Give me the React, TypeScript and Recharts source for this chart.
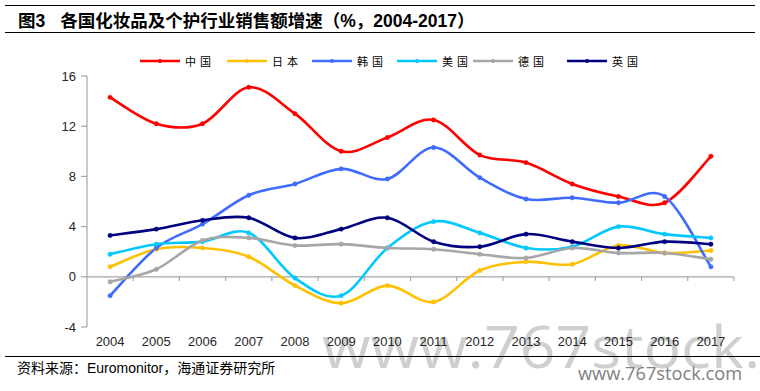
import React from 'react';
import { LineChart, Line, XAxis, YAxis, ReferenceLine } from 'recharts';

const years = ['2004', '2005', '2006', '2007', '2008', '2009', '2010', '2011', '2012', '2013', '2014', '2015', '2016', '2017'];
const china = [14.3, 12.2, 12.2, 15.1, 13.0, 10.0, 11.1, 12.5, 9.7, 9.1, 7.4, 6.4, 5.9, 9.6];
const japan = [0.8, 2.2, 2.3, 1.6, -0.7, -2.1, -0.7, -2.0, 0.5, 1.2, 1.0, 2.5, 1.9, 2.1];
const korea = [-1.5, 2.3, 4.2, 6.5, 7.4, 8.6, 7.8, 10.3, 7.9, 6.2, 6.3, 5.9, 6.4, 0.8];
const usa = [1.8, 2.6, 2.8, 3.5, -0.1, -1.5, 2.3, 4.4, 3.5, 2.3, 2.4, 4.0, 3.4, 3.1];
const germany = [-0.4, 0.6, 2.9, 3.1, 2.5, 2.6, 2.3, 2.2, 1.8, 1.5, 2.3, 1.9, 1.9, 1.4];
const uk = [3.3, 3.8, 4.5, 4.7, 3.1, 3.8, 4.7, 2.8, 2.4, 3.4, 2.8, 2.3, 2.8, 2.6];
const yTicks = [-4, 0, 4, 8, 12, 16];

const seriesNames = ['中国', '日本', '韩国', '美国', '德国', '英国'];
const seriesKeys = ['china', 'japan', 'korea', 'usa', 'germany', 'uk'];
const seriesColors = ['#FF0000', '#FFC000', '#3F6BFF', '#00C8FF', '#A6A6A6', '#000080'];
const seriesValues = [china, japan, korea, usa, germany, uk];

const data = years.map((year, i) => {
  const row: any = { x: i, year };
  seriesKeys.forEach((k, j) => {
    row[k] = seriesValues[j][i];
  });
  return row;
});

const indices = years.map((_, i) => i);
const boundaries = years.map((_, i) => i + 0.5);

// Excel-like smoothing (Catmull-Rom / cardinal with tension 0)
function excelCurve(context: any) {
  let pts: [number, number][] = [];
  return {
    areaStart() {},
    areaEnd() {},
    lineStart() {
      pts = [];
    },
    lineEnd() {
      const n = pts.length;
      if (n === 0) return;
      context.moveTo(pts[0][0], pts[0][1]);
      for (let i = 0; i < n - 1; i++) {
        const p0 = pts[i - 1] || pts[i];
        const p1 = pts[i];
        const p2 = pts[i + 1];
        const p3 = pts[i + 2] || p2;
        context.bezierCurveTo(
          p1[0] + (p2[0] - p0[0]) / 6,
          p1[1] + (p2[1] - p0[1]) / 6,
          p2[0] - (p3[0] - p1[0]) / 6,
          p2[1] - (p3[1] - p1[1]) / 6,
          p2[0],
          p2[1]
        );
      }
    },
    point(x: number, y: number) {
      pts.push([+x, +y]);
    },
  };
}

const legendLeft = [140, 227, 312, 397, 473, 567];
const axisColor = '#A6A6A6';
const tickFont = { fontFamily: "'Liberation Sans', Arial, sans-serif", fontSize: 13, fill: '#262626' };

export default function App() {
  return (
    <div
      style={{
        position: 'absolute',
        left: 0,
        top: 0,
        width: 760,
        height: 391,
        overflow: 'hidden',
        background: '#fff',
      }}
    >
      {/* watermark */}
      <svg width={760} height={391} style={{ position: 'absolute', left: 0, top: 0 }}>
        <text
          x={322}
          y={368}
          fontSize={58}
          fontFamily="'Open Sans', sans-serif"
          fill="#CFCFCF"
          textLength={564}
          lengthAdjust="spacingAndGlyphs"
        >
          www.767stock.com
        </text>
        <text
          x={578}
          y={380}
          fontSize={19}
          fontFamily="'Open Sans', sans-serif"
          fill="#808080"
          textLength={164}
          lengthAdjust="spacingAndGlyphs"
        >
          www.767stock.com
        </text>
      </svg>

      {/* title */}
      <div style={{ position: 'absolute', left: 5, top: 5, width: 750, height: 0, borderTop: '1.5px solid #000' }} />
      <div
        style={{
          position: 'absolute',
          left: 18,
          top: 9,
          fontSize: 17.5,
          fontWeight: 700,
          lineHeight: '24px',
          whiteSpace: 'nowrap',
          color: '#000',
          fontFamily: "'Liberation Sans', 'Noto Sans CJK SC', sans-serif",
        }}
      >
        图3<span style={{ display: 'inline-block', width: 15 }} />各国化妆品及个护行业销售额增速（%，2004-2017）
      </div>
      <div style={{ position: 'absolute', left: 5, top: 32, width: 750, height: 0, borderTop: '1.5px solid #000' }} />

      {/* legend */}
      {seriesNames.map((name, i) => (
        <div key={name} style={{ position: 'absolute', left: legendLeft[i], top: 52, height: 18 }}>
          <svg width={42} height={18} style={{ position: 'absolute', left: 0, top: 0 }}>
            <line x1={0} y1={9} x2={40} y2={9} stroke={seriesColors[i]} strokeWidth={2.6} />
            <circle cx={20} cy={9} r={2} fill={seriesColors[i]} />
          </svg>
          <span
            style={{
              position: 'absolute',
              left: 45,
              top: 0,
              lineHeight: '18px',
              fontSize: 11,
              letterSpacing: 4,
              whiteSpace: 'nowrap',
              color: '#000',
              fontFamily: "'Noto Sans CJK SC', sans-serif",
            }}
          >
            {name}
          </span>
        </div>
      ))}

      <div style={{ position: 'absolute', left: 0, top: 0 }}>
        <LineChart width={760} height={391} data={data} margin={{ top: 76, right: 26, bottom: 34, left: 0 }}>
          <XAxis
            dataKey="x"
            type="number"
            domain={[-0.5, 13.5]}
            ticks={indices}
            tickFormatter={(v: number) => years[v]}
            axisLine={false}
            tickLine={false}
            tickSize={5}
            tickMargin={5}
            height={30}
            tick={tickFont}
            interval={0}
          />
          <YAxis
            type="number"
            domain={[-4, 16]}
            ticks={yTicks}
            width={87}
            axisLine={{ stroke: axisColor, strokeWidth: 1.2 }}
            tickLine={{ stroke: axisColor, strokeWidth: 1.2 }}
            tickSize={6}
            tickMargin={5}
            tick={tickFont}
            interval={0}
          />
          <ReferenceLine y={0} stroke={axisColor} strokeWidth={1.2} />
          {boundaries.map((b) => (
            <ReferenceLine
              key={b}
              segment={[
                { x: b, y: 0 },
                { x: b, y: -0.34 },
              ]}
              stroke={axisColor}
              strokeWidth={1.2}
              ifOverflow="visible"
            />
          ))}
          {seriesKeys.map((k, i) => (
            <Line
              key={k}
              dataKey={k}
              type={excelCurve as any}
              stroke={seriesColors[i]}
              strokeWidth={2.6}
              dot={{ r: 2.2, fill: seriesColors[i], stroke: seriesColors[i], strokeWidth: 0.5 }}
              activeDot={false}
              isAnimationActive={false}
            />
          ))}
        </LineChart>
      </div>

      {/* source */}
      <div style={{ position: 'absolute', left: 5, top: 356, width: 755, height: 0, borderTop: '1.5px solid #000' }} />
      <div
        style={{
          position: 'absolute',
          left: 17,
          top: 359,
          fontSize: 14,
          lineHeight: '18px',
          whiteSpace: 'nowrap',
          color: '#000',
          fontFamily: "'Liberation Sans', 'Noto Sans CJK SC', sans-serif",
        }}
      >
        资料来源：Euromonitor，海通证券研究所
      </div>
    </div>
  );
}
